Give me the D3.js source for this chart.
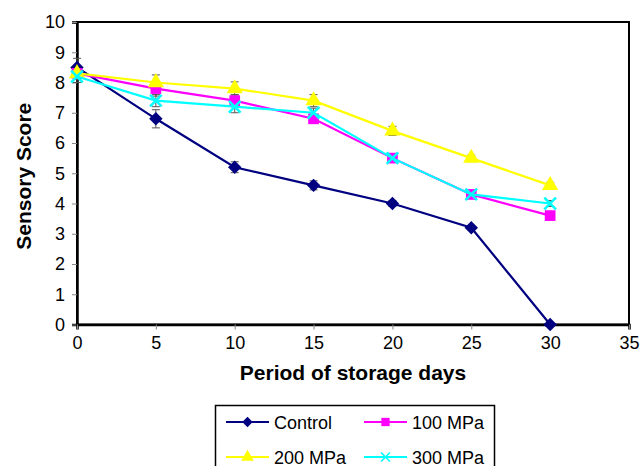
<!DOCTYPE html>
<html>
<head>
<meta charset="utf-8">
<script src="https://cdn.jsdelivr.net/npm/d3@7"></script>
<style>
  body { margin: 0; background: #fff; }
  text { font-family: "Liberation Sans", Arial, sans-serif; }
</style>
</head>
<body>
<div id="chart"></div>
<script>
const width = 640;
const height = 466;

// data
const days = [0, 5, 10, 15, 20, 25, 30];
const control = [8.5, 6.8, 5.2, 4.6, 4.0, 3.2, 0];
const mpa100 = [8.3, 7.8, 7.4, 6.8, 5.5, 4.3, 3.6];
const mpa200 = [8.3, 8.0, 7.8, 7.4, 6.4, 5.5, 4.6];
const mpa300 = [8.2, 7.4, 7.2, 7.0, 5.5, 4.3, 4.0];
const errControl = [0.3, 0.3, 0.18, 0.15, 0.1, 0.05, 0];
const err100 = [0.2, 0.25, 0.2, 0.15, 0.1, 0.1, 0.1];
const err200 = [0.2, 0.25, 0.22, 0.2, 0.15, 0.1, 0.1];
const err300 = [0.2, 0.2, 0.2, 0.15, 0.1, 0.1, 0.1];
const xTicks = [0, 5, 10, 15, 20, 25, 30, 35];
const yTicks = [0, 1, 2, 3, 4, 5, 6, 7, 8, 9, 10];

// diamond as a square turned 45 degrees
const diamond = {
    draw(ctx, size) {
        const r = Math.sqrt(size / 2);
        ctx.moveTo(0, -r); ctx.lineTo(r, 0); ctx.lineTo(0, r); ctx.lineTo(-r, 0); ctx.closePath();
    }
};

const series = [
    { name: "Control", values: control, err: errControl, color: "#000080", symbol: diamond, size: 90 },
    { name: "100 MPa", values: mpa100, err: err100, color: "#ff00ff", symbol: d3.symbolSquare, size: 115 },
    { name: "200 MPa", values: mpa200, err: err200, color: "#ffff00", symbol: d3.symbolTriangle, size: 115 },
    { name: "300 MPa", values: mpa300, err: err300, color: "#00ffff", symbol: d3.symbolX, size: 90 }
];

const margin = { left: 77, right: 11, top: 22, bottom: 142 };

const svg = d3.select("#chart")
    .append("svg")
    .attr("width", width)
    .attr("height", height);

const x = d3.scaleLinear().domain([0, 35]).range([margin.left, width - margin.right]);
const y = d3.scaleLinear().domain([0, 10]).range([height - margin.bottom + 0.5, margin.top]);

// frame
svg.append("rect")
    .attr("x", x(0)).attr("y", y(10))
    .attr("width", x(35) - x(0)).attr("height", y(0) - y(10))
    .attr("fill", "none").attr("stroke", "#000").attr("stroke-width", 2);

// axes
const yAxis = svg.append("g")
    .attr("transform", `translate(${x(0)},0)`)
    .call(d3.axisLeft(y).tickValues(yTicks).tickSize(5).tickPadding(7));
const xAxis = svg.append("g")
    .attr("transform", `translate(0,${y(0)})`)
    .call(d3.axisBottom(x).tickValues(xTicks).tickSize(5).tickPadding(7));

[yAxis, xAxis].forEach(g => {
    g.attr("font-size", null).attr("font-family", null);
    g.select(".domain").attr("stroke", "#000").attr("stroke-width", 2.5);
    g.selectAll(".tick line").attr("stroke", "#888");
    g.selectAll(".tick text")
        .style("font-size", "18px")
        .attr("fill", "#000");
});

// axis titles
svg.append("text")
    .attr("transform", `translate(31,${(y(0) + y(10)) / 2 + 3}) rotate(-90)`)
    .attr("text-anchor", "middle")
    .style("font-size", "21px")
    .attr("font-weight", "bold")
    .text("Sensory Score");

svg.append("text")
    .attr("x", (x(0) + x(35)) / 2)
    .attr("y", 380)
    .attr("text-anchor", "middle")
    .style("font-size", "21px")
    .attr("font-weight", "bold")
    .text("Period of storage days");

const line = d3.line()
    .x((d, i) => x(days[i]))
    .y(d => y(d));

// error bars
series.forEach(s => {
    const g = svg.append("g");
    s.values.forEach((v, i) => {
        if (!s.err[i]) return;
        const cx = x(days[i]);
        const y1 = y(v - s.err[i]), y2 = y(v + s.err[i]);
        g.append("line").attr("x1", cx).attr("x2", cx).attr("y1", y1).attr("y2", y2)
            .attr("stroke", "#555").attr("stroke-width", 1);
        [y1, y2].forEach(yy => {
            g.append("line").attr("x1", cx - 4).attr("x2", cx + 4).attr("y1", yy).attr("y2", yy)
                .attr("stroke", "#555").attr("stroke-width", 1);
        });
    });
});

// lines and markers
series.forEach(s => {
    svg.append("path")
        .datum(s.values)
        .attr("d", line)
        .attr("fill", "none")
        .attr("stroke", s.color)
        .attr("stroke-width", 2.2);

    svg.selectAll(null)
        .data(s.values)
        .enter()
        .append("path")
        .attr("transform", (d, i) => `translate(${x(days[i])},${y(d)})`)
        .attr("d", d3.symbol().type(s.symbol).size(s.size))
        .attr("fill", s.symbol === d3.symbolX ? "none" : s.color)
        .attr("stroke", s.color)
        .attr("stroke-width", s.symbol === d3.symbolX ? 2.5 : 0);
});

// legend
const legend = svg.append("g");
legend.append("rect")
    .attr("x", 215.5).attr("y", 405.5)
    .attr("width", 279).attr("height", 70)
    .attr("fill", "#fff").attr("stroke", "#000").attr("stroke-width", 1.5);

series.forEach((s, i) => {
    const lx = 226 + (i % 2) * 138;
    const ly = 422 + Math.floor(i / 2) * 35;
    legend.append("line")
        .attr("x1", lx).attr("x2", lx + 43)
        .attr("y1", ly).attr("y2", ly)
        .attr("stroke", s.color).attr("stroke-width", 2);
    legend.append("path")
        .attr("transform", `translate(${lx + 21.5},${ly})`)
        .attr("d", d3.symbol().type(s.symbol).size(s.size * 0.6))
        .attr("fill", s.symbol === d3.symbolX ? "none" : s.color)
        .attr("stroke", s.color)
        .attr("stroke-width", s.symbol === d3.symbolX ? 1.5 : 0);
    legend.append("text")
        .attr("x", lx + 48)
        .attr("y", ly + 6.5)
        .style("font-size", "18px")
        .text(s.name);
});
</script>
</body>
</html>
